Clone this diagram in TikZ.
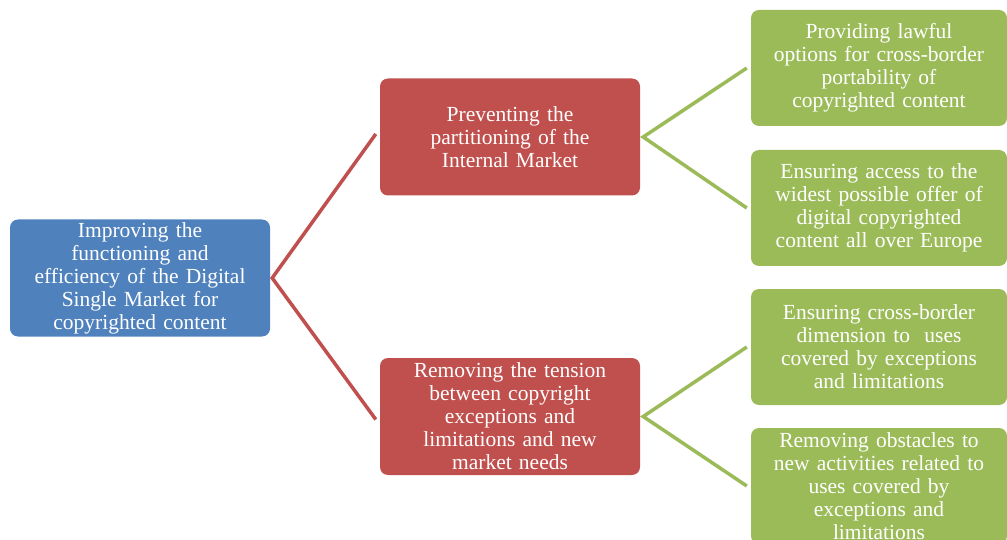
\documentclass[tikz,border=0pt]{standalone}
\usepackage{fontspec}
\setmainfont{Liberation Serif}
\definecolor{objblue}{HTML}{4F81BD}
\definecolor{objred}{HTML}{C0504D}
\definecolor{objgreen}{HTML}{9BBB59}
\tikzset{
  objbox/.style={rounded corners=8pt, text=white, align=center,
    inner sep=0pt, font=\fontsize{21.5}{23}\selectfont},
  goalbox/.style={objbox, fill=objblue, minimum width=260pt, minimum height=117pt, text width=256pt},
  aimbox/.style={objbox, fill=objred, minimum width=260pt, minimum height=117pt, text width=256pt},
  taskbox/.style={objbox, fill=objgreen, minimum width=256pt, minimum height=116pt, text width=256pt},
  redlink/.style={draw=objred, line width=3.5pt},
  greenlink/.style={draw=objgreen, line width=3.5pt},
}
\begin{document}
\begin{tikzpicture}[x=1pt,y=-1pt]
\useasboundingbox (0,0) rectangle (1007,540);

\node[goalbox] (goal) at (140,278) {Improving the\\ functioning and\\ efficiency of the Digital\\ Single Market for\\ copyrighted content};

\node[aimbox] (aim1) at (510,137) {Preventing the\\ partitioning of the\\ Internal Market};
\node[aimbox] (aim2) at (510,416.5) {Removing the tension\\ between copyright\\ exceptions and\\ limitations and new\\ market needs};

\node[taskbox] (t1) at (879,68) {Providing lawful\\ options for cross-border\\ portability of\\ copyrighted content};
\node[taskbox] (t2) at (879,208) {Ensuring access to the\\ widest possible offer of\\ digital copyrighted\\ content all over Europe};
\node[taskbox] (t3) at (879,347) {Ensuring cross-border\\ dimension to~ uses\\ covered by exceptions\\ and limitations};
\node[taskbox] (t4) at (879,486) {Removing obstacles to\\ new activities related to\\ uses covered by\\ exceptions and\\ limitations};

\draw[redlink, line join=miter] ([xshift=-4pt,yshift=3pt]aim1.west) -- ([xshift=2pt]goal.east) -- ([xshift=-4pt,yshift=-3pt]aim2.west);
\draw[greenlink, line join=miter] ([xshift=-4pt]t1.west) -- ([xshift=3pt]aim1.east) -- ([xshift=-4pt]t2.west);
\draw[greenlink, line join=miter] ([xshift=-4pt]t3.west) -- ([xshift=3pt]aim2.east) -- ([xshift=-4pt]t4.west);
\end{tikzpicture}
\end{document}
